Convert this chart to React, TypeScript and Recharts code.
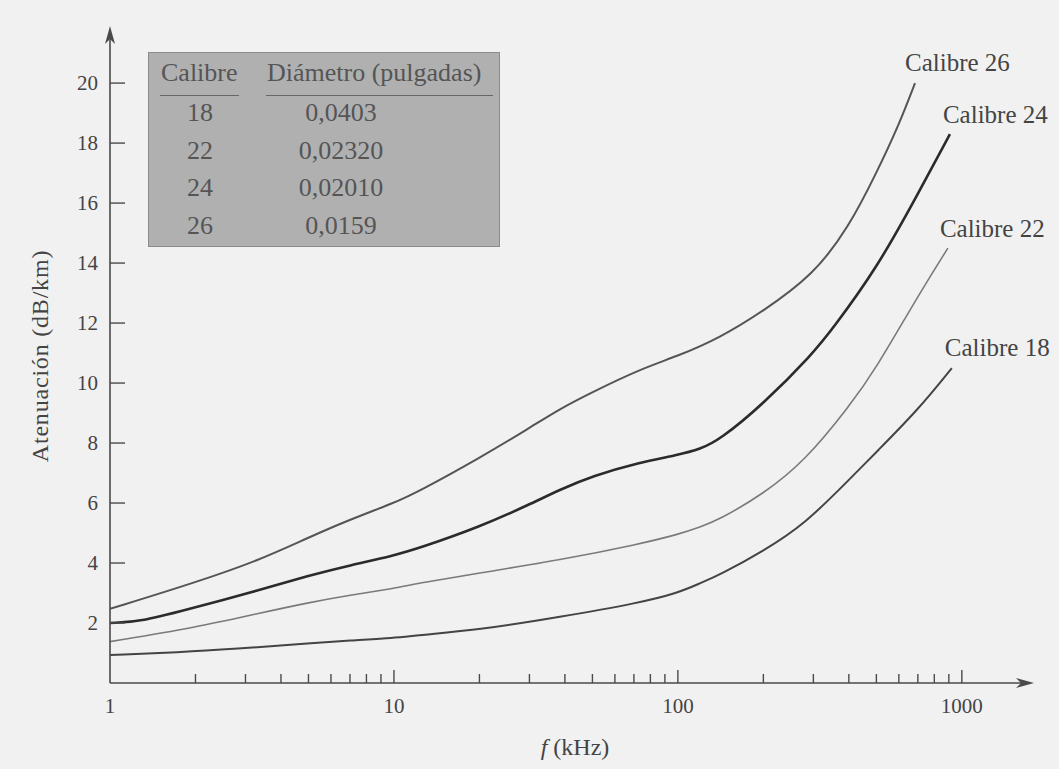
import React from 'react';
import { LineChart, Line, XAxis, YAxis, LabelList } from 'recharts';

const xTicks = [1, 2, 3, 4, 5, 6, 7, 8, 9, 10, 20, 30, 40, 50, 60, 70, 80, 90, 100, 200, 300, 400, 500, 600, 700, 800, 900, 1000];
const xLabelTicks = [1, 10, 100, 1000];
const yTicks = [2, 4, 6, 8, 10, 12, 14, 16, 18, 20];

const calibre26 = [
  { f: 1, a: 2.47 }, { f: 2, a: 3.35 }, { f: 3.37, a: 4.1 }, { f: 5, a: 4.85 }, { f: 7, a: 5.45 },
  { f: 10, a: 6.0 }, { f: 12.3, a: 6.4 }, { f: 20, a: 7.5 }, { f: 30, a: 8.5 }, { f: 38.5, a: 9.15 },
  { f: 50, a: 9.7 }, { f: 73, a: 10.45 }, { f: 100, a: 10.9 }, { f: 140, a: 11.5 }, { f: 200, a: 12.4 },
  { f: 300, a: 13.6 }, { f: 400, a: 15.2 }, { f: 500, a: 17.0 }, { f: 600, a: 18.6 }, { f: 684, a: 20.0 },
];
const calibre24 = [
  { f: 1, a: 2.0 }, { f: 1.3, a: 2.05 }, { f: 2, a: 2.52 }, { f: 3.37, a: 3.1 }, { f: 5, a: 3.58 }, { f: 7, a: 3.92 },
  { f: 10, a: 4.25 }, { f: 12.3, a: 4.5 }, { f: 20, a: 5.2 }, { f: 30, a: 5.95 }, { f: 38.5, a: 6.45 },
  { f: 50, a: 6.9 }, { f: 73, a: 7.35 }, { f: 100, a: 7.6 }, { f: 120, a: 7.8 }, { f: 140, a: 8.1 },
  { f: 200, a: 9.3 }, { f: 300, a: 11.0 }, { f: 350, a: 11.8 }, { f: 500, a: 13.8 }, { f: 700, a: 16.3 }, { f: 908, a: 18.3 },
];
const calibre22 = [
  { f: 1, a: 1.38 }, { f: 2, a: 1.85 }, { f: 3.37, a: 2.33 }, { f: 5, a: 2.68 }, { f: 7, a: 2.93 },
  { f: 10, a: 3.15 }, { f: 12.3, a: 3.33 }, { f: 20, a: 3.67 }, { f: 38.5, a: 4.1 }, { f: 73, a: 4.63 },
  { f: 100, a: 4.95 }, { f: 120, a: 5.2 }, { f: 140, a: 5.45 }, { f: 200, a: 6.3 }, { f: 280, a: 7.4 },
  { f: 400, a: 9.2 }, { f: 500, a: 10.5 }, { f: 700, a: 12.9 }, { f: 893, a: 14.5 },
];
const calibre18 = [
  { f: 1, a: 0.93 }, { f: 2, a: 1.05 }, { f: 3.37, a: 1.2 }, { f: 5, a: 1.32 }, { f: 7, a: 1.42 },
  { f: 10, a: 1.5 }, { f: 12.3, a: 1.6 }, { f: 20, a: 1.77 }, { f: 38.5, a: 2.2 }, { f: 73, a: 2.67 },
  { f: 100, a: 3.0 }, { f: 120, a: 3.33 }, { f: 140, a: 3.6 }, { f: 200, a: 4.4 }, { f: 280, a: 5.3 },
  { f: 400, a: 6.77 }, { f: 500, a: 7.7 }, { f: 700, a: 9.1 }, { f: 922, a: 10.5 },
];

const tableGauges = ['18', '22', '24', '26'];
const tableDiameters = ['0,0403', '0,02320', '0,02010', '0,0159'];

const FONT = '"Liberation Serif", "DejaVu Serif", "Times New Roman", serif';
const AXIS = '#4a4a4a';
const TEXT = '#444';

const XTick = (props: any) => {
  const { x, y, payload } = props;
  const v = payload.value;
  const major = xLabelTicks.includes(v);
  return (
    <g>
      {v !== 1 && (
        <line x1={x} x2={x} y1={y} y2={y - (major ? 13 : 9)} stroke={AXIS} strokeWidth={1.4} />
      )}
      {major && (
        <text x={x} y={y + 30} textAnchor="middle" fontFamily={FONT} fontSize={21} fill={TEXT}>
          {v}
        </text>
      )}
    </g>
  );
};

const YTick = (props: any) => {
  const { x, y, payload } = props;
  return (
    <g>
      <line x1={x} x2={x + 15} y1={y} y2={y} stroke={AXIS} strokeWidth={1.4} />
      <text x={x - 12} y={y + 7} textAnchor="end" fontFamily={FONT} fontSize={21} fill={TEXT}>
        {payload.value}
      </text>
    </g>
  );
};

const makeEndLabel = (name: string, count: number, dx: number, dy: number) => (props: any) => {
  const { x, y, index } = props;
  if (index !== count - 1) return null;
  return (
    <text x={x + dx} y={y + dy} fontFamily={FONT} fontSize={25} fill={TEXT}>
      {name}
    </text>
  );
};

const series = [
  { name: 'Calibre 26', data: calibre26, stroke: '#555', width: 2, dx: -10, dy: -12 },
  { name: 'Calibre 24', data: calibre24, stroke: '#2b2b2b', width: 2.6, dx: -7, dy: -11 },
  { name: 'Calibre 22', data: calibre22, stroke: '#7a7a7a', width: 1.6, dx: -8, dy: -11 },
  { name: 'Calibre 18', data: calibre18, stroke: '#444', width: 2, dx: -7, dy: -12 },
];

export default function App() {
  return (
    <div style={{ position: 'absolute', left: 0, top: 0, width: 1059, height: 769, background: '#f1f1f1', overflow: 'hidden' }}>
      <svg width={0} height={0} style={{ position: 'absolute' }}>
        <defs>
          <marker id="arrowHead" viewBox="0 0 18 10" refX={14} refY={5} markerWidth={18} markerHeight={10} markerUnits="userSpaceOnUse" orient="auto-start-reverse">
            <path d="M0,0 L18,5 L0,10 L5,5 z" fill={AXIS} />
          </marker>
        </defs>
      </svg>
      <LineChart width={1059} height={769} margin={{ top: 30, right: 29, bottom: 26, left: 50 }}>
        <XAxis
          dataKey="f"
          type="number"
          scale="log"
          domain={[1, 1738]}
          allowDataOverflow
          ticks={xTicks}
          interval={0}
          tickSize={0}
          tickMargin={0}
          height={60}
          tick={<XTick />}
          axisLine={{ stroke: AXIS, strokeWidth: 1.6, markerEnd: 'url(#arrowHead)' }}
        />
        <YAxis
          type="number"
          domain={[0, 21.77]}
          allowDataOverflow
          ticks={yTicks}
          interval={0}
          tickSize={0}
          tickMargin={0}
          width={60}
          tick={<YTick />}
          axisLine={{ stroke: AXIS, strokeWidth: 1.6, markerStart: 'url(#arrowHead)' }}
        />
        {series.map((s) => (
          <Line
            key={s.name}
            data={s.data}
            dataKey="a"
            type="basis"
            stroke={s.stroke}
            strokeWidth={s.width}
            dot={false}
            activeDot={false}
            isAnimationActive={false}
          >
            <LabelList dataKey="a" content={makeEndLabel(s.name, s.data.length, s.dx, s.dy)} />
          </Line>
        ))}
      </LineChart>

      <div
        style={{
          position: 'absolute', left: 148, top: 52, width: 352, height: 195,
          background: '#b0b0b0', border: '1.5px solid #8a8a8a', boxSizing: 'border-box',
          fontFamily: FONT, fontSize: 26, color: '#555',
        }}
      >
        <span style={{ position: 'absolute', left: 12, top: 5, lineHeight: '30px' }}>Calibre</span>
        <span style={{ position: 'absolute', left: 118, top: 5, lineHeight: '30px' }}>Diámetro (pulgadas)</span>
        <div style={{ position: 'absolute', left: 11, top: 42, width: 79, borderTop: '1.5px solid #666' }} />
        <div style={{ position: 'absolute', left: 117, top: 42, width: 227, borderTop: '1.5px solid #666' }} />
        {tableGauges.map((g, i) => (
          <React.Fragment key={g}>
            <span style={{ position: 'absolute', left: 51, top: 60 + i * 37.5, transform: 'translate(-50%, -50%)', lineHeight: '30px' }}>{g}</span>
            <span style={{ position: 'absolute', left: 192, top: 60 + i * 37.5, transform: 'translate(-50%, -50%)', lineHeight: '30px' }}>{tableDiameters[i]}</span>
          </React.Fragment>
        ))}
      </div>

      <div
        style={{
          position: 'absolute', left: 40, top: 356, transform: 'translate(-50%, -50%) rotate(-90deg)',
          fontFamily: FONT, fontSize: 24, letterSpacing: 0.8, color: TEXT, whiteSpace: 'nowrap',
        }}
      >
        Atenuación (dB/km)
      </div>
      <div
        style={{
          position: 'absolute', left: 575, top: 747, transform: 'translate(-50%, -50%)',
          fontFamily: FONT, fontSize: 24, color: TEXT, whiteSpace: 'nowrap',
        }}
      >
        <i>f</i> (kHz)
      </div>
    </div>
  );
}
